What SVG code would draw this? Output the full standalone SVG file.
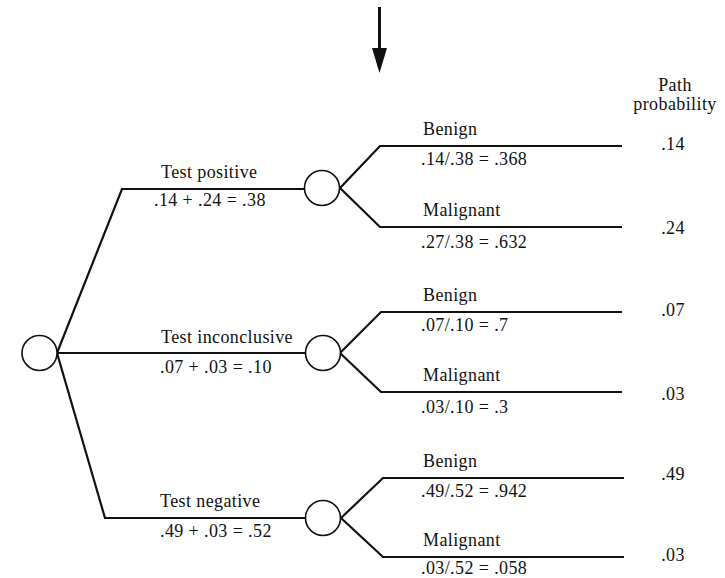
<svg xmlns="http://www.w3.org/2000/svg" width="725" height="578" viewBox="0 0 725 578">
<style>
text{font-family:"Liberation Serif","Times New Roman",serif;font-size:18px;letter-spacing:0.4px;fill:#111}
.ln{fill:none;stroke:#111;stroke-width:2.2;stroke-linejoin:miter}
.nd{fill:#fff;stroke:#111;stroke-width:1.6}
.pp{text-anchor:middle}
</style>
<rect width="725" height="578" fill="#fff"/>
<g id="connectors">
<line x1="379.5" y1="7" x2="379.5" y2="55" stroke="#111" stroke-width="3"/>
<polygon points="372,48 387,48 379.5,73" fill="#111"/>
<polyline class="ln" points="57,353 122,189 304,189"/>
<polyline class="ln" points="57,353 306,353"/>
<polyline class="ln" points="57,353 105,518 305,518"/>
<polyline class="ln" points="340,188 380,146 622,146"/>
<polyline class="ln" points="340,188 380,227 622,227"/>
<polyline class="ln" points="340,353 381,312 622,312"/>
<polyline class="ln" points="340,353 381,392 622,392"/>
<polyline class="ln" points="341,518 383,478 624,478"/>
<polyline class="ln" points="341,518 383,557 624,557"/>
</g>
<g id="root"><circle class="nd" cx="39.5" cy="353" r="17.5"/></g>
<g id="chance-positive"><circle class="nd" cx="322" cy="188" r="17.5"/></g>
<g id="chance-inconclusive"><circle class="nd" cx="323" cy="353" r="17.5"/></g>
<g id="chance-negative"><circle class="nd" cx="323" cy="518" r="17.5"/></g>
<g id="labels">
<text x="161" y="178">Test positive</text>
<text x="154" y="206">.14 + .24 = .38</text>
<text x="161" y="343">Test inconclusive</text>
<text x="160" y="373">.07 + .03 = .10</text>
<text x="160" y="507">Test negative</text>
<text x="160" y="537">.49 + .03 = .52</text>

<text x="423" y="135">Benign</text>
<text x="421" y="165">.14/.38 = .368</text>
<text x="423" y="216">Malignant</text>
<text x="421" y="248">.27/.38 = .632</text>

<text x="423" y="301">Benign</text>
<text x="421" y="331">.07/.10 = .7</text>
<text x="423" y="381">Malignant</text>
<text x="421" y="413">.03/.10 = .3</text>

<text x="423" y="467">Benign</text>
<text x="421" y="497">.49/.52 = .942</text>
<text x="423" y="546">Malignant</text>
<text x="421" y="574">.03/.52 = .058</text>
</g>
<g id="path-probability">
<text class="pp" x="675" y="91">Path</text>
<text class="pp" x="675" y="110">probability</text>
<text class="pp" x="673" y="150">.14</text>
<text class="pp" x="673" y="234">.24</text>
<text class="pp" x="673" y="316">.07</text>
<text class="pp" x="673" y="400">.03</text>
<text class="pp" x="673" y="480">.49</text>
<text class="pp" x="673" y="561">.03</text>
</g>
</svg>
